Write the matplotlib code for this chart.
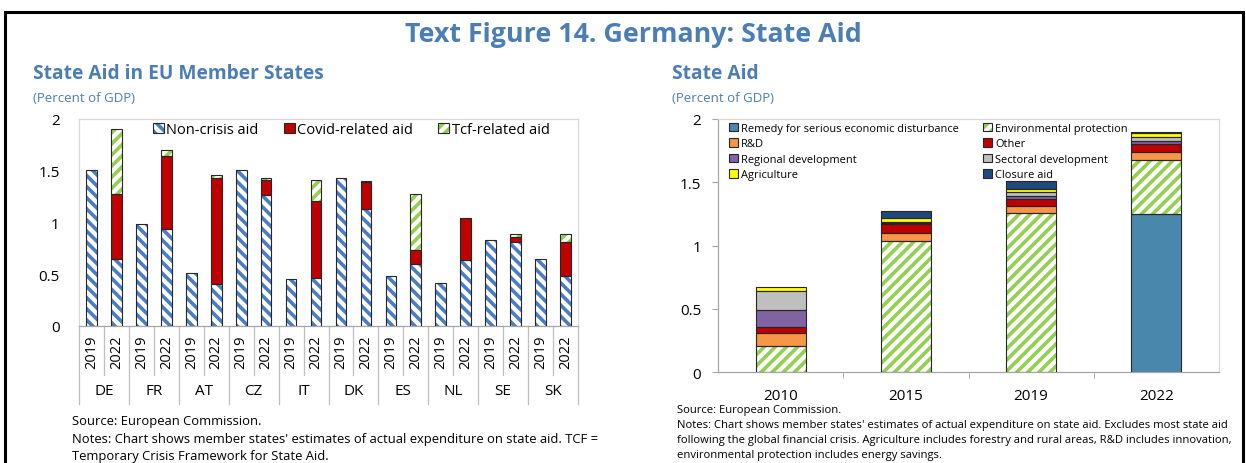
import matplotlib.pyplot as plt
import numpy as np
from matplotlib.patches import Patch, Rectangle
import matplotlib.transforms as mtransforms

plt.rcParams['font.family'] = ['Open Sans', 'DejaVu Sans']
plt.rcParams['hatch.linewidth'] = 2.6

W, H = 1246, 464
BLUE_T = '#4A7EB5'

# ---- left chart data ----
countries = ['DE', 'FR', 'AT', 'CZ', 'IT', 'DK', 'ES', 'NL', 'SE', 'SK']
years = ['2019', '2022']
non_crisis = [1.51, 0.65, 0.98, 0.94, 0.51, 0.40, 1.51, 1.265, 0.45, 0.46,
              1.43, 1.13, 0.48, 0.60, 0.41, 0.64, 0.83, 0.81, 0.65, 0.48]
covid = [0, 0.625, 0, 0.705, 0, 1.03, 0, 0.145, 0, 0.75,
         0, 0.26, 0, 0.13, 0, 0.40, 0, 0.05, 0, 0.33]
tcf = [0, 0.625, 0, 0.055, 0, 0.03, 0, 0.02, 0, 0.20,
       0, 0.01, 0, 0.54, 0, 0, 0, 0.03, 0, 0.075]

# ---- right chart data ----
years_r = ['2010', '2015', '2019', '2022']
remedy = [0, 0, 0, 1.25]
env = [0.21, 1.04, 1.26, 0.43]
rnd = [0.10, 0.06, 0.05, 0.06]
other = [0.05, 0.07, 0.06, 0.06]
regional = [0.13, 0.01, 0.02, 0.03]
sectoral = [0.15, 0.01, 0.03, 0.03]
agri = [0.03, 0.03, 0.03, 0.03]
closure = [0.0, 0.05, 0.06, 0.01]


def fx(x):
    return x / W


def fy(y):
    return 1 - y / H


def hbar(ax, x, h, b, w, color, hatch=None, face='white'):
    # hatched fill, then dark outline on top
    if hatch:
        ax.bar(x, h, w, bottom=b, facecolor=face, edgecolor=color, hatch=hatch, linewidth=0, zorder=2)
    else:
        ax.bar(x, h, w, bottom=b, facecolor=color, linewidth=0, zorder=2)
    ax.bar(x, h, w, bottom=b, fill=False, edgecolor='#262626', linewidth=0.8, zorder=3)


def handle(color, hatch=None):
    outline = Patch(fill=False, edgecolor='#262626', linewidth=0.8)
    if hatch:
        return (Patch(facecolor='white', edgecolor=color, hatch=hatch, linewidth=0), outline)
    return (Patch(facecolor=color, linewidth=0), outline)


fig = plt.figure(figsize=(W / 100, H / 100), dpi=100)

# frame around whole figure
fig.patches.append(Rectangle((fx(5), -0.05), fx(1243) - fx(5), fy(13) + 0.05,
                             transform=fig.transFigure, fill=False,
                             edgecolor='black', linewidth=2.2))

fig.text(fx(633), fy(35), 'Text Figure 14. Germany: State Aid', ha='center', va='center',
         fontsize=19.3, fontweight='bold', color=BLUE_T)
fig.text(fx(33), fy(74), 'State Aid in EU Member States', ha='left', va='center',
         fontsize=13.8, fontweight='bold', color=BLUE_T)
fig.text(fx(33), fy(98), '(Percent of GDP)', ha='left', va='center', fontsize=9.5, color=BLUE_T)
fig.text(fx(672), fy(74), 'State Aid', ha='left', va='center',
         fontsize=13.8, fontweight='bold', color=BLUE_T)
fig.text(fx(672), fy(98), '(Percent of GDP)', ha='left', va='center', fontsize=9.5, color=BLUE_T)

# ---------------- left chart ----------------
axl = fig.add_axes([fx(79), fy(326.7), fx(578) - fx(79), fy(120) - fy(326.7)])
n = len(non_crisis)
xs = np.arange(n)
nc = np.array(non_crisis)
cv = np.array(covid)
tc = np.array(tcf)
bw = 0.43
for i in xs:
    hbar(axl, i, nc[i], 0, bw, '#4A7EC4', hatch='\\\\\\')
    if cv[i] > 0:
        hbar(axl, i, cv[i], nc[i], bw, '#C00000')
    if tc[i] > 0:
        hbar(axl, i, tc[i], nc[i] + cv[i], bw, '#92D050', hatch='///')

axl.set_xlim(-0.5, n - 0.5)
axl.set_ylim(0, 2)
axl.set_yticks([0, 0.5, 1, 1.5, 2])
axl.set_yticklabels(['0', '0.5', '1', '1.5', '2'])
axl.tick_params(axis='y', length=0, labelsize=11, pad=14, colors='#000000')
axl.set_xticks([])
for s in ['top', 'right', 'left']:
    axl.spines[s].set_color('#D9D9D9')
    axl.spines[s].set_linewidth(0.9)
axl.spines['bottom'].set_color('#A6A6A6')
axl.spines['bottom'].set_linewidth(0.9)

trans = mtransforms.blended_transform_factory(axl.transData, fig.transFigure)
for i in xs:
    axl.text(i, fy(352), years[i % 2], transform=trans, rotation=90,
             ha='center', va='center', fontsize=10.5)
for k, c in enumerate(countries):
    axl.text(2 * k + 0.5, fy(392), c, transform=trans, ha='center', va='center', fontsize=11)
for b in np.arange(-0.5, n, 1.0):
    long = (int(b + 0.5) % 2 == 0)
    y_end = fy(405) if long else fy(376)
    axl.plot([b, b], [fy(326.7), y_end], transform=trans, color='#BFBFBF',
             linewidth=0.9, clip_on=False)

handles_l = [handle('#4A7EC4', '\\\\\\'), handle('#C00000'), handle('#92D050', '///')]
axl.legend(handles_l, ['Non-crisis aid', 'Covid-related aid', 'Tcf-related aid'],
           ncol=3, loc='upper left', bbox_to_anchor=(fx(153), fy(123)),
           bbox_transform=fig.transFigure, frameon=False, borderpad=0,
           fontsize=10.5, handlelength=0.75, handleheight=0.75, handletextpad=0.15,
           columnspacing=1.75, borderaxespad=0)

fig.text(fx(72), fy(422), 'Source: European Commission.', fontsize=9.4, va='center')
fig.text(fx(72), fy(439.5), "Notes: Chart shows member states' estimates of actual expenditure on state aid. TCF =",
         fontsize=9.4, va='center')
fig.text(fx(72), fy(457), 'Temporary Crisis Framework for State Aid.', fontsize=9.4, va='center')

# ---------------- right chart ----------------
axr = fig.add_axes([fx(718), fy(373.3), fx(1219) - fx(718), fy(120) - fy(373.3)])
xr = np.arange(len(years_r))
bwr = 0.40
series = [
    ('Remedy for serious economic disturbance', remedy, '#4A87AD', None),
    ('Environmental protection', env, '#92D050', '///'),
    ('R&D', rnd, '#F79646', None),
    ('Other', other, '#C00000', None),
    ('Regional development', regional, '#8064A2', None),
    ('Sectoral development', sectoral, '#BFBFBF', None),
    ('Agriculture', agri, '#FFFF00', None),
    ('Closure aid', closure, '#1F497D', None),
]
bottom = np.zeros(len(years_r))
for name, vals, col, hat in series:
    v = np.array(vals)
    for j in xr:
        if v[j] > 0:
            hbar(axr, j, v[j], bottom[j], bwr, col, hatch=hat)
    bottom += v

axr.set_xlim(-0.5, len(years_r) - 0.5)
axr.set_ylim(0, 2)
axr.set_yticks([0, 0.5, 1, 1.5, 2])
axr.set_yticklabels(['0', '0.5', '1', '1.5', '2'])
axr.tick_params(axis='y', length=4, direction='out', color='#A6A6A6', labelsize=11, pad=8)
axr.set_xticks(xr)
axr.set_xticklabels(years_r)
axr.tick_params(axis='x', length=0, labelsize=11, pad=11)
axr.set_xticks(np.arange(0.5, len(years_r) - 1, 1.0), minor=True)
axr.tick_params(axis='x', which='minor', length=4, direction='out', color='#A6A6A6')
for s in ['top', 'right']:
    axr.spines[s].set_color('#D9D9D9')
    axr.spines[s].set_linewidth(0.9)
for s in ['left', 'bottom']:
    axr.spines[s].set_color('#A6A6A6')
    axr.spines[s].set_linewidth(0.9)

handles_r = [handle(col, hat) for name, vals, col, hat in series]
labels_r = [s[0] for s in series]
# reorder so legend reads row-wise in two columns
order = [0, 2, 4, 6, 1, 3, 5, 7]
axr.legend([handles_r[i] for i in order], [labels_r[i] for i in order], ncol=2,
           loc='upper left', bbox_to_anchor=(fx(729), fy(124)),
           bbox_transform=fig.transFigure, frameon=False, borderpad=0, fontsize=7.9,
           handlelength=0.8, handleheight=0.8, handletextpad=0.3, labelspacing=0.4,
           columnspacing=2.2, borderaxespad=0)

notes_r = ["Source: European Commission.",
           "Notes: Chart shows member states' estimates of actual expenditure on state aid. Excludes most state aid",
           "following the global financial crisis. Agriculture includes forestry and rural areas, R&D includes innovation,",
           "environmental protection includes energy savings."]
for k, t in enumerate(notes_r):
    fig.text(fx(677), fy(411 + 15 * k), t, fontsize=8.1, va='center')

fig.savefig('out.png', dpi=100)
